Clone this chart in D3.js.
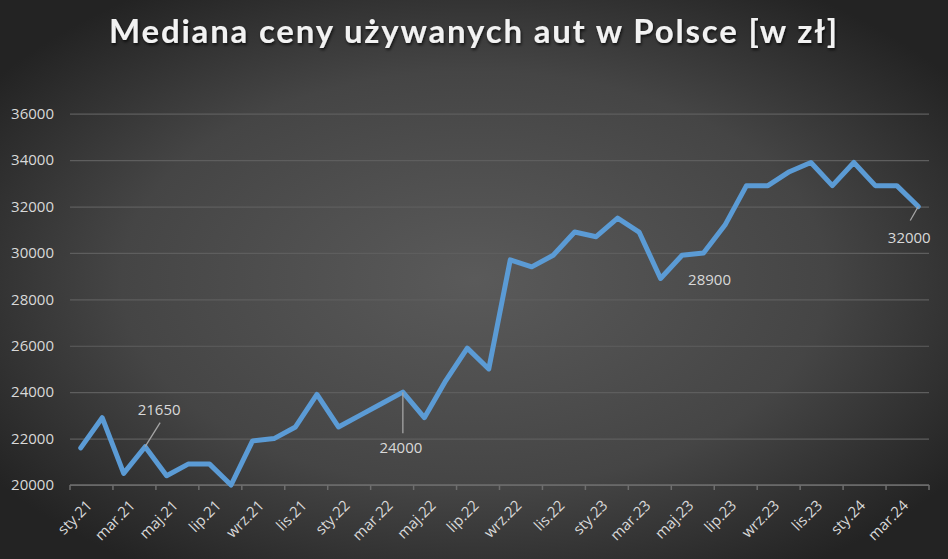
<!DOCTYPE html>
<html>
<head>
<meta charset="utf-8">
<script src="https://cdn.jsdelivr.net/npm/d3@7"></script>
<style>
  body { margin: 0; background: #333; }
  svg { display: block; }
</style>
</head>
<body>
<div id="chart-area"></div>
<script>
const svgWidth = 948, svgHeight = 559;

const months = [
  'sty.21','lut.21','mar.21','kwi.21','maj.21','cze.21','lip.21','sie.21','wrz.21','paź.21','lis.21','gru.21',
  'sty.22','lut.22','mar.22','kwi.22','maj.22','cze.22','lip.22','sie.22','wrz.22','paź.22','lis.22','gru.22',
  'sty.23','lut.23','mar.23','kwi.23','maj.23','cze.23','lip.23','sie.23','wrz.23','paź.23','lis.23','gru.23',
  'sty.24','lut.24','mar.24','kwi.24'
];
const prices = [
  21600, 22900, 20500, 21650, 20400, 20900, 20900, 20000, 21900, 22000, 22500, 23900,
  22500, 23000, 23500, 24000, 22900, 24500, 25900, 25000, 29700, 29400, 29900, 30900,
  30700, 31500, 30900, 28900, 29900, 30000, 31200, 32900, 32900, 33500, 33900, 32900,
  33900, 32900, 32900, 32000
];
const yTicks = [20000, 22000, 24000, 26000, 28000, 30000, 32000, 34000, 36000];
// labelled points: index, label offset (dx, dy) and leader line end
const labelled = [
  { i: 3,  dx: 14,  dy: -32, lx: 15,  ly: -24 },
  { i: 15, dx: -2,  dy: 61,  lx: 0,   ly: 41 },
  { i: 27, dx: 49,  dy: 7,   lx: null, ly: null },
  { i: 39, dx: -9,  dy: 36,  lx: -8,  ly: 14 }
];

const svg = d3.select('#chart-area').append('svg')
  .attr('width', svgWidth)
  .attr('height', svgHeight);

const defs = svg.append('defs');
const grad = defs.append('radialGradient')
  .attr('id', 'bg')
  .attr('cx', '50%').attr('cy', '50%').attr('r', '62%');
grad.append('stop').attr('offset', '0%').attr('stop-color', '#5a5a5a');
grad.append('stop').attr('offset', '60%').attr('stop-color', '#454545');
grad.append('stop').attr('offset', '100%').attr('stop-color', '#232323');

const shadow = defs.append('filter').attr('id', 'shadow')
  .attr('x', '-5%').attr('y', '-20%').attr('width', '110%').attr('height', '150%');
shadow.append('feDropShadow')
  .attr('dx', 1).attr('dy', 2).attr('stdDeviation', 1.5)
  .attr('flood-color', '#000').attr('flood-opacity', 0.7);

svg.append('rect')
  .attr('width', svgWidth).attr('height', svgHeight)
  .attr('fill', 'url(#bg)');

svg.append('text')
  .text('Mediana ceny używanych aut w Polsce [w zł]')
  .attr('x', 474)
  .attr('y', 43)
  .attr('text-anchor', 'middle')
  .attr('font-family', 'Lato')
  .attr('font-size', 33)
  .attr('font-weight', 700)
  .attr('letter-spacing', 1.8)
  .attr('fill', '#f2f2f2')
  .attr('filter', 'url(#shadow)');

const x = d3.scaleBand().domain(months).range([70, 929]);
const y = d3.scaleLinear().domain([20000, 36000]).range([485, 113.7]);
const cx = (m) => x(m) + x.bandwidth() / 2;

// gridlines + y labels
const yAxis = svg.append('g')
  .attr('transform', 'translate(70,0)')
  .call(d3.axisLeft(y).tickValues(yTicks).tickSize(-859).tickPadding(16).tickFormat(d3.format('d')));
yAxis.select('.domain').remove();
yAxis.selectAll('.tick line').attr('stroke', '#5e5e5e').attr('stroke-width', 1.2);
yAxis.selectAll('.tick text')
  .attr('fill', '#d9d9d9')
  .attr('font-family', 'Open Sans')
  .attr('font-size', 15);

// x axis line and tick marks at category boundaries
const tickMonths = months.filter((d, i) => i % 2 === 0);
const xAxis = svg.append('g');
xAxis.append('line')
  .attr('x1', 70).attr('x2', 929)
  .attr('y1', y(20000)).attr('y2', y(20000))
  .attr('stroke', '#6e6e6e').attr('stroke-width', 1.5);
xAxis.selectAll('line.tk')
  .data(tickMonths.map(m => x(m)).concat([929]))
  .enter().append('line')
  .attr('class', 'tk')
  .attr('x1', d => d).attr('x2', d => d)
  .attr('y1', y(20000)).attr('y2', y(20000) + 5)
  .attr('stroke', '#6e6e6e').attr('stroke-width', 1.5);
xAxis.selectAll('text')
  .data(tickMonths)
  .enter().append('text')
  .text(d => d)
  .attr('transform', d => `translate(${cx(d) + 5},${y(20000) + 14}) rotate(-45)`)
  .attr('text-anchor', 'end')
  .attr('dy', '0.7em')
  .attr('fill', '#d9d9d9')
  .attr('font-family', 'Open Sans')
  .attr('font-size', 15);

// line
const line = d3.line()
  .x((d, i) => cx(months[i]))
  .y(d => y(d));
svg.append('path')
  .datum(prices)
  .attr('d', line)
  .attr('fill', 'none')
  .attr('stroke', '#5b9bd5')
  .attr('stroke-width', 5)
  .attr('stroke-linejoin', 'round')
  .attr('stroke-linecap', 'round');

// data labels
labelled.forEach(l => {
  const px = cx(months[l.i]), py = y(prices[l.i]);
  if (l.lx !== null) {
    svg.append('line')
      .attr('x1', px).attr('y1', py)
      .attr('x2', px + l.lx).attr('y2', py + l.ly)
      .attr('stroke', '#a6a6a6').attr('stroke-width', 1.3);
  }
  svg.append('text')
    .text(prices[l.i])
    .attr('x', px + l.dx)
    .attr('y', py + l.dy)
    .attr('text-anchor', 'middle')
    .attr('fill', '#d9d9d9')
    .attr('font-family', 'Open Sans')
    .attr('font-size', 15);
});
</script>
</body>
</html>
